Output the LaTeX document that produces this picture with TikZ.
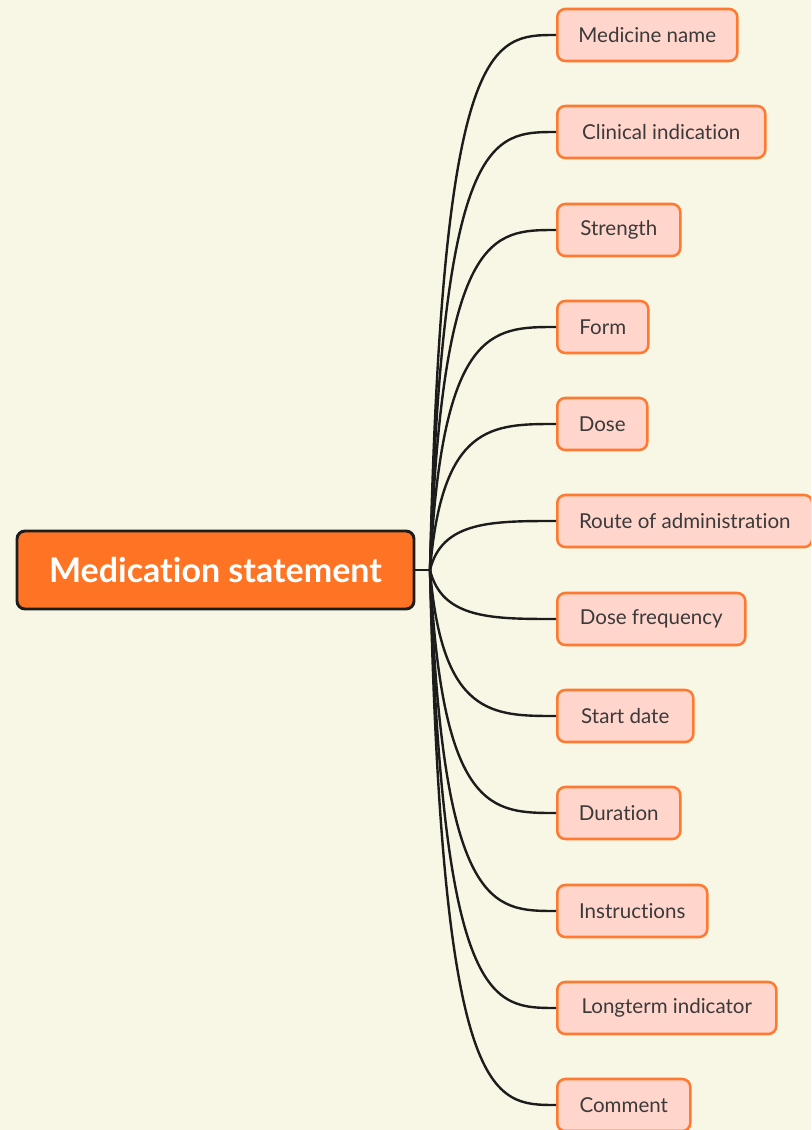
\documentclass[tikz,border=0pt]{standalone}
\usepackage{fontspec}
\setmainfont{Lato}[RawFeature=-liga]
\begin{document}
\begin{tikzpicture}[x=0.75pt,y=-0.75pt,
  root/.style={draw=rootline,fill=rootfill,line width=2.2pt,rounded corners=6pt,
    minimum width=397*0.75pt,minimum height=78*0.75pt,inner sep=0pt,
    text=white,font=\fontsize{25.5}{30}\selectfont\bfseries},
  leaf/.style={draw=leafline,fill=leaffill,line width=1.9pt,rounded corners=6pt,
    anchor=west,minimum height=52*0.75pt,inner sep=0pt,
    text=leaftext,font=\fontsize{15.4}{18}\selectfont},
  link/.style={draw=linkc,line width=1.8pt}]
\definecolor{bg}{HTML}{F8F7E6}
\definecolor{rootfill}{HTML}{FF7424}
\definecolor{rootline}{HTML}{1C1C1C}
\definecolor{leaffill}{HTML}{FFD5CC}
\definecolor{leafline}{HTML}{FF7A30}
\definecolor{leaftext}{HTML}{3A3A3A}
\definecolor{linkc}{HTML}{1C1C1C}
\useasboundingbox (0,0) rectangle (811,1130);
\clip (0,0) rectangle (811,1130);
\fill[bg] (0,0) rectangle (811,1130);

\node[root] (root) at (215.5,570) {Medication statement};
\coordinate (hub) at (430,570);
\draw[link] (root.east) -- (hub);

\node[leaf,minimum width=180*0.75pt] (c1) at (556,35) {Medicine name};
\node[leaf,minimum width=208*0.75pt] (c2) at (556,132) {Clinical indication};
\node[leaf,minimum width=123*0.75pt] (c3) at (556,230) {Strength};
\node[leaf,minimum width=91*0.75pt] (c4) at (556,327) {Form};
\node[leaf,minimum width=90*0.75pt] (c5) at (556,424) {Dose};
\node[leaf,minimum width=255*0.75pt] (c6) at (556,521) {Route of administration};
\node[leaf,minimum width=188*0.75pt] (c7) at (556,619) {Dose frequency};
\node[leaf,minimum width=136*0.75pt] (c8) at (556,716) {Start date};
\node[leaf,minimum width=123*0.75pt] (c9) at (556,813) {Duration};
\node[leaf,minimum width=150*0.75pt] (c10) at (556,911) {Instructions};
\node[leaf,minimum width=219*0.75pt] (c11) at (556,1008) {Longterm indicator};
\node[leaf,minimum width=133*0.75pt] (c12) at (556,1105) {Comment};

% each branch leaves the hub steeply and enters its box horizontally
\foreach \i in {1,...,12}{
  \draw[link] (hub) .. controls ([xshift=9pt]hub |- c\i.west) and ([xshift=-48pt]c\i.west) .. (c\i.west);
}
\end{tikzpicture}
\end{document}
